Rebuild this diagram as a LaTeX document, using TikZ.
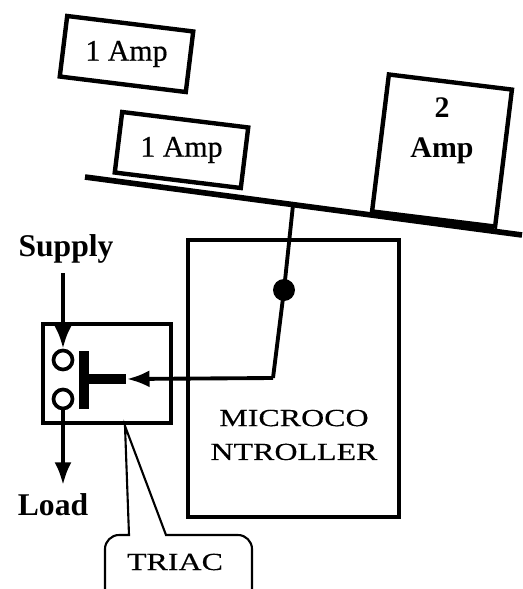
\documentclass[tikz,border=0pt]{standalone}
\usepackage{fontspec}
\setmainfont{Liberation Serif}
\newfontfamily\capsfont[FakeStretch=1.3,FakeBold=0.4]{Liberation Serif}
\newfontfamily\ampfont[FakeBold=0.6]{Liberation Serif}
\usetikzlibrary{arrows.meta,positioning}
\tikzset{
  weight-box/.style={draw=black, fill=white, line width=2.5pt, rotate=-7, minimum height=#1},
  weight-label/.style={font=\ampfont\fontsize{17}{19}\selectfont, align=center},
  wire-label/.style={font=\bfseries\fontsize{18}{20}\selectfont},
  caps-label/.style={font=\capsfont\fontsize{14}{19.3}\selectfont, align=center},
  part-box/.style={draw=black, line width=2.5pt, minimum width=#1},
  terminal/.style={circle, draw=black, fill=white, line width=2.1pt, minimum size=0.38cm, inner sep=0pt},
  gate-bar/.style={fill=black, inner sep=0pt}
}
\begin{document}
\begin{tikzpicture}[>=Latex, x=0.02cm, y=-0.02cm]
  \useasboundingbox (0,0) rectangle (522,589);

  % Beam ends and pivot
  \coordinate (bl) at (85,177);
  \coordinate (br) at (522,235);
  \coordinate (bp) at (293,205);
  \coordinate (wl) at (372,212);
  \coordinate (wr) at (494,228);
  \draw[line width=3.2pt] (bl) -- (br);
  \draw[line width=5pt] (wl) -- (wr);

  % Weights
  \node[weight-box=1.22cm, minimum width=2.54cm] (wa) at (126.5,54) {};
  \node[weight-label] (wat) at (wa) {1 Amp};
  \node[weight-box=1.22cm, minimum width=2.54cm] (wb) at (181.5,150) {};
  \node[weight-label] (wbt) at (wb) {1 Amp};
  \node[weight-box=2.76cm, minimum width=2.48cm] (wc) at (442,150.5) {};
  \node[weight-label, font=\bfseries\fontsize{17}{22.5}\selectfont] (wct) at (442,131) {2\\Amp};

  % Microcontroller
  \node[part-box=4.22cm, minimum height=5.54cm] (mc) at (293.5,378.5) {};
  \node[caps-label] (mct) at (294,435) {MICROCO\\NTROLLER};

  % Triac
  \node[part-box=2.56cm, minimum height=1.98cm] (tr) at (107,373.5) {};
  \node[terminal] (ca) at (63,360) {};
  \node[terminal] (cb) at (63,399) {};
  \node[gate-bar, minimum width=0.2cm, minimum height=1.16cm] (gv) at (84,380) {};
  \node[gate-bar, minimum width=0.76cm, minimum height=0.2cm] (gh) at (107.5,379) {};

  % Supply and load
  \node[wire-label] (sup) at (66,249) {Supply};
  \node[wire-label] (lod) at (53,505) {Load};
  \draw[-Latex, line width=2.2pt, shorten <=2pt] (sup.south -| ca) -- (ca.north);
  \draw[-Latex, line width=2.2pt, shorten >=1.5pt] (cb.south) -- (cb.south |- lod.north);

  % Control line
  \node[circle, fill=black, minimum size=0.44cm, inner sep=0pt] (dot) at (284,290) {};
  \coordinate (el) at (273,378);
  \draw[line width=2.2pt] (bp) -- (dot.center) -- (el);
  \draw[-Latex, line width=2.2pt] (el) -- (gh.east);

  % Callout
  \coordinate (tip) at (125,426);
  \draw[line width=1.2pt] (105,589) [rounded corners=8pt] -- (105,535) [sharp corners] -- (129,535) -- (tip) -- (166,535) [rounded corners=8pt] -- (252,535) -- (252,589);
  \node[caps-label] (trt) at (175,562) {TRIAC};
\end{tikzpicture}
\end{document}
